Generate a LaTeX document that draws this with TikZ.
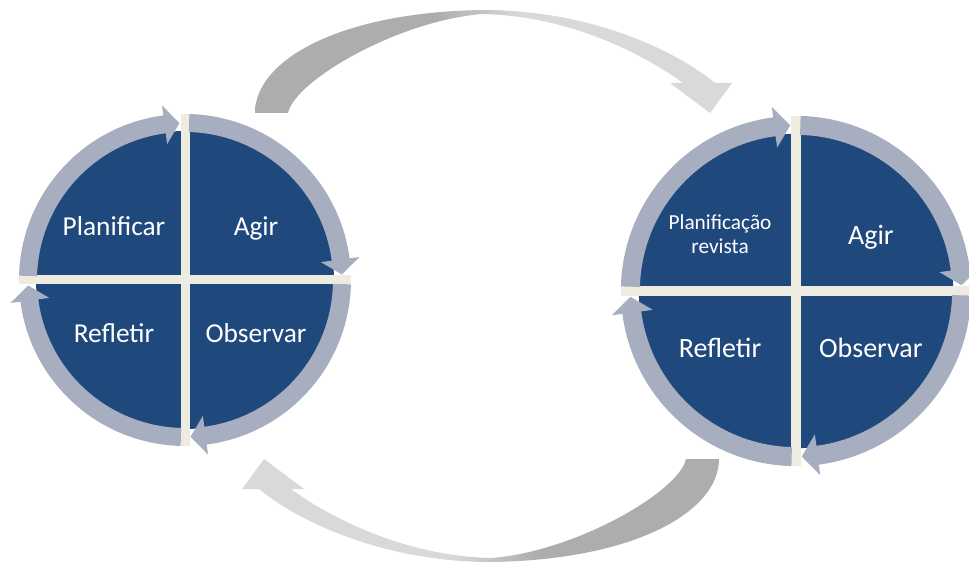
\documentclass[tikz,border=0pt]{standalone}
\usepackage{fontspec}
\setmainfont{Carlito}
\usepackage{tikz}
\definecolor{qblue}{HTML}{1F497D}
\definecolor{ringgray}{HTML}{A7AEC0}
\definecolor{gapcream}{HTML}{EEECE1}
\definecolor{arrowdark}{HTML}{ADADAD}
\definecolor{arrowlight}{HTML}{D9D9D9}
\pgfdeclarehorizontalshading{arrowfade}{100bp}{color(0bp)=(arrowdark); color(44bp)=(arrowdark);
  color(53bp)=(arrowlight); color(100bp)=(arrowlight)}

% four blue quadrants with the clockwise ring arrows, centred at the origin
\newcommand{\cyclewheel}{%
  \fill[qblue] (0,0) circle (149);
  \fill[gapcream] (-166,-4.5) rectangle (166,4.5);
  \fill[gapcream] (-4.5,-166) rectangle (4.5,166);
  \foreach \a in {180,90,0,-90}
    \fill[ringgray] (\a-1.5:166) arc[start angle=\a-1.5, end angle=\a-82.5, radius=166]
      -- (\a-82.5:176) -- (\a-88:157) -- (\a-82.5:137) -- (\a-82.5:148)
      arc[start angle=\a-82.5, end angle=\a-1.5, radius=148] -- cycle;
}

% the big curved arrow from one cycle to the next (#1 = shading angle)
\newcommand{\looparrow}[1]{%
  \shade[shading=arrowfade, shading angle=#1]
    (255,451) .. controls (255,504) and (340,552) .. (483,554)
    .. controls (590,554) and (675,514) .. (715,481)
    -- (732,481) -- (710,451) -- (670,481) -- (683,481)
    .. controls (645,509) and (570,548) .. (483,550)
    .. controls (400,544) and (295,484) .. (288,451) -- cycle;
}

\begin{document}
\begin{tikzpicture}[x=0.75pt, y=0.75pt,
  qtext/.style={text=white, anchor=base, font=\fontsize{20.5}{24}\selectfont}]
  \useasboundingbox (0,0) rectangle (969,564);
  \coordinate (mid) at (487,278);

  \looparrow{0}
  \begin{scope}[rotate around={180:(mid)}]
    \looparrow{180}
  \end{scope}

  % first cycle
  \begin{scope}[shift={(185,284)}]
    \cyclewheel
    \node[qtext] (plan1) at (-71,44) {Planificar};
    \node[qtext] (agir1) at (71,44) {Agir};
    \node[qtext] (refl1) at (-71,-63) {Refletir};
    \node[qtext] (obs1) at (71,-63) {Observar};
  \end{scope}

  % revised cycle
  \begin{scope}[shift={(796,273)}, scale=1.055]
    \cyclewheel
    \node[text=white, align=center, font=\fontsize{16}{18}\selectfont]
      (plan2) at (-72,53.5) {Planificação\\revista};
    \node[qtext, font=\fontsize{21}{24}\selectfont] (agir2) at (71,44) {Agir};
    \node[qtext, font=\fontsize{21}{24}\selectfont] (refl2) at (-72,-63) {Refletir};
    \node[qtext, font=\fontsize{21}{24}\selectfont] (obs2) at (71,-63) {Observar};
  \end{scope}
\end{tikzpicture}
\end{document}
